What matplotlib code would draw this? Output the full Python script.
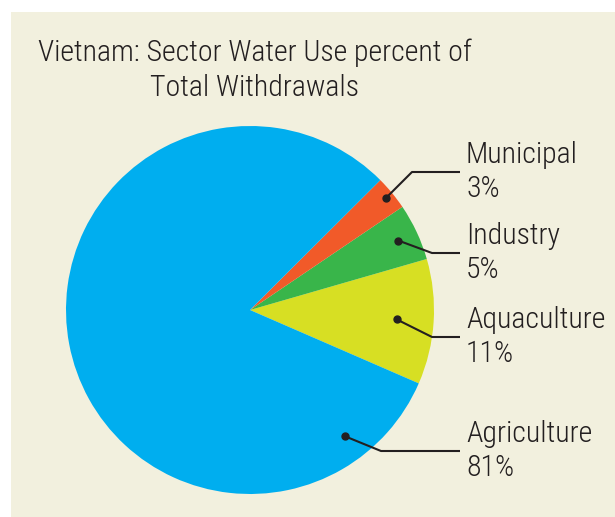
import numpy as np
import matplotlib.pyplot as plt
from matplotlib.patches import Rectangle

# dati
settori = ['Aquaculture', 'Industry', 'Municipal', 'Agriculture']
percentuali = [11, 5, 3, 81]
colori = ['#D7DF23', '#39B54A', '#F15A29', '#00AEEF']

# posizione delle etichette (pixel della figura) e raggio del punto
etichetta_y = [337, 253, 172, 451]
gomito_x = [432, 432, 412, 381]
punto_r = [0.80, 0.89, 0.96, 0.86]
punto_ang = [None, None, None, -53]

W, H = 615, 517
fig = plt.figure(figsize=(W / 100, H / 100), dpi=100)
fig.patch.set_facecolor('white')
fig.patches.append(Rectangle((11 / W, 0), 1, 1 - 12 / H, transform=fig.transFigure,
                             facecolor='#F2F0DE', edgecolor='none', zorder=-5))

font = ['Roboto Condensed', 'IBM Plex Sans Condensed', 'Archivo Narrow', 'DejaVu Sans']
testo = '#231F20'

cx, cy, R = 250, 310, 184
ax = fig.add_axes([(cx - R) / W, (H - cy - R) / H, 2 * R / W, 2 * R / H])
ax.set_zorder(1)
ax.patch.set_visible(False)

wedges, _ = ax.pie(percentuali, colors=colori, startangle=-23.5, counterclock=True,
                   radius=1, wedgeprops=dict(linewidth=0))
ax.set_xlim(-1, 1)
ax.set_ylim(-1, 1)
ax.axis('off')


def px2data(px, py):
    return (px - cx) / R, (cy - py) / R


for w, nome, p, ly, gx, r, ang in zip(wedges, settori, percentuali, etichetta_y,
                                        gomito_x, punto_r, punto_ang):
    if ang is None:
        ang = (w.theta1 + w.theta2) / 2
    a = np.deg2rad(ang)
    dx, dy = r * np.cos(a), r * np.sin(a)
    ex, ey = px2data(gx, ly)
    hx, _ = px2data(460, ly)
    ax.plot([dx, ex, hx], [dy, ey, ey], color=testo, lw=1.5, clip_on=False,
            solid_capstyle='butt')
    ax.plot(dx, dy, 'o', color=testo, ms=5, clip_on=False)
    tx, _ = px2data(466, ly)
    ax.text(tx, ey, f'{nome}\n{p}%', ha='left', va='center', fontsize=21.5,
            family=font, weight='light', color=testo, linespacing=1.28, clip_on=False)

fig.text(255 / W, 1 - 70 / H, 'Vietnam: Sector Water Use percent of\nTotal Withdrawals',
         ha='center', va='center', multialignment='center', fontsize=21.5,
         family=font, weight='light', color=testo, linespacing=1.3)

plt.savefig('out.png', dpi=100)
